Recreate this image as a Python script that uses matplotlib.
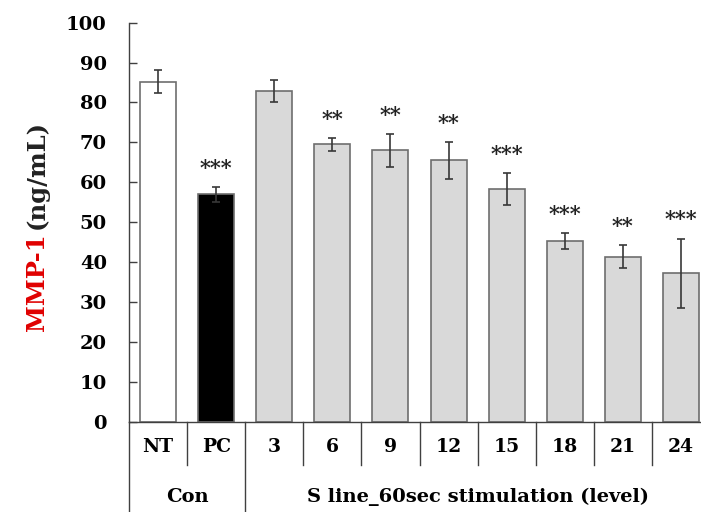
import matplotlib.pyplot as plt
import numpy as np

# values
categories = ["NT", "PC", "3", "6", "9", "12", "15", "18", "21", "24"]
mmp1 = [85.2, 57.0, 82.8, 69.5, 68.0, 65.5, 58.3, 45.3, 41.4, 37.2]
err = [2.9, 1.9, 2.8, 1.6, 4.1, 4.6, 4.1, 2.0, 2.9, 8.7]
stars = ["", "***", "", "**", "**", "**", "***", "***", "**", "***"]
fills = ["white", "black"] + ["#d9d9d9"] * 8
groups = [("Con", 0, 1), ("S line_60sec stimulation (level)", 2, 9)]

FONT = "DejaVu Serif"
AX_COL = "#404040"

fig = plt.figure(figsize=(7.01, 5.12), dpi=100)
W, H = 701, 512
ax = fig.add_axes([129 / W, 1 - 421.7 / H, (710 - 129) / W, (421.7 - 22.7) / H])

x = np.arange(len(categories))
ax.bar(x, mmp1, width=0.62, color=fills, edgecolor="#6e6e6e",
       linewidth=1.2, zorder=2)
ax.errorbar(x, mmp1, yerr=err, fmt="none", ecolor="#383838",
            elinewidth=1.2, capsize=3, capthick=1.2, zorder=3)

for xi, v, e, s in zip(x, mmp1, err, stars):
    if s:
        ax.text(xi, v + e + 2.3, s, ha="center", va="bottom",
                fontsize=15, fontweight="bold", family=FONT,
                color="#222222")

ax.set_xlim(-0.5, len(categories) - 0.5)
ax.set_ylim(0, 100)
ax.set_yticks(np.arange(0, 101, 10))
ax.tick_params(axis="y", direction="in", length=6, width=1, color=AX_COL,
               pad=16, labelsize=14)
for lab in ax.get_yticklabels():
    lab.set_fontfamily(FONT)
    lab.set_fontweight("bold")
ax.set_xticks([])

for side in ("top", "right"):
    ax.spines[side].set_visible(False)
for side in ("left", "bottom"):
    ax.spines[side].set_color(AX_COL)
    ax.spines[side].set_linewidth(1.0)

# category labels and separators under the axis
tr = ax.get_xaxis_transform()
y_cat = (421.7 - 447) / 399
y_grp = (421.7 - 497) / 399
y_short = (421.7 - 465) / 399
y_long = (421.7 - 520) / 399
for xi, c in zip(x, categories):
    ax.text(xi, y_cat, c, transform=tr, ha="center", va="center",
            fontsize=13.5, fontweight="bold", family=FONT, clip_on=False)
long_edges = {-0.5, 2 - 0.5}
for b in np.arange(-0.5, len(categories), 1.0):
    y_end = y_long if b in long_edges else y_short
    ax.plot([b, b], [0, y_end], transform=tr, color=AX_COL, lw=1.0,
            clip_on=False)
for name, i0, i1 in groups:
    ax.text((i0 + i1) / 2, y_grp, name, transform=tr, ha="center",
            va="center", fontsize=14, fontweight="bold", family=FONT,
            clip_on=False)

# y label in two colours
fig.text(37 / W, 1 - 233 / H, "MMP-1", rotation=90, ha="center", va="top",
         color="#e00000", fontsize=17.5, fontweight="bold", family=FONT)
fig.text(37 / W, 1 - 229 / H, "(ng/mL)", rotation=90, ha="center",
         va="bottom", color="#222222", fontsize=17.5, fontweight="bold",
         family=FONT)

fig.savefig("out.png", dpi=100)
